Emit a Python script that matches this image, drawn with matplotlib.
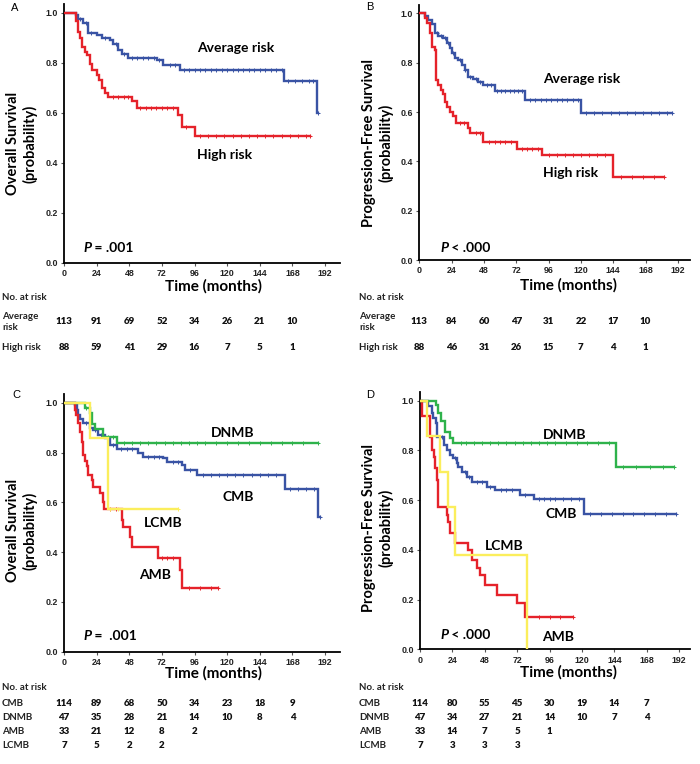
import numpy as np
import matplotlib
matplotlib.use("Agg")
import matplotlib.pyplot as plt
from matplotlib.transforms import blended_transform_factory

# ---------------- data ----------------
x_ticks = [0, 24, 48, 72, 96, 120, 144, 168, 192]
y_ticks = [0.0, 0.2, 0.4, 0.6, 0.8, 1.0]
risk_times = [0, 24, 48, 72, 96, 120, 144, 168]

# Panel A (overall survival)
A_avg_t = [0, 8.8, 10.5, 14.2, 17.9, 24, 27.7, 33.8, 36.3, 40, 42.4, 47.3, 68.2, 73, 85.3, 161.8, 185.9]
A_avg_s = [1.0, 0.99, 0.976, 0.96, 0.92, 0.91, 0.90, 0.89, 0.875, 0.85, 0.837, 0.82, 0.81, 0.79, 0.77, 0.727, 0.60]
A_avg_end = 187
A_avg_c = [12, 16, 20, 30, 38, 44, 50, 54, 58, 62, 66, 70, 78, 82, 88, 92, 96, 100, 104, 108, 112, 116, 120, 124, 128, 132, 136, 140, 144, 148, 152, 156, 160, 165, 170, 175, 180, 183, 187]
A_high_t = [0, 8.8, 10.5, 11.8, 13, 15.4, 17.2, 19.1, 20.4, 24, 25.7, 27.7, 30.2, 32.6, 49.8, 53.5, 84.1, 86.6, 96.4]
A_high_s = [1.0, 0.968, 0.924, 0.90, 0.864, 0.845, 0.83, 0.797, 0.77, 0.75, 0.731, 0.698, 0.68, 0.664, 0.648, 0.618, 0.591, 0.545, 0.507]
A_high_end = 181
A_high_c = [36, 40, 44, 47, 56, 60, 64, 68, 72, 76, 80, 90, 100, 106, 112, 118, 124, 130, 136, 142, 148, 154, 160, 166, 172, 178, 181]

# Panel B (progression-free survival)
B_avg_t = [0, 4.2, 6.7, 9.1, 11.6, 14.1, 17.8, 20.3, 22.7, 24, 26.4, 28.9, 31.4, 33.9, 36.3, 40, 43.7, 47.4, 56.1, 78.3, 120.3]
B_avg_s = [1.0, 0.99, 0.975, 0.955, 0.919, 0.91, 0.899, 0.88, 0.858, 0.84, 0.82, 0.81, 0.79, 0.77, 0.743, 0.735, 0.723, 0.708, 0.685, 0.649, 0.595]
B_avg_end = 188
B_avg_c = [13, 16, 19, 21, 25, 30, 34, 38, 42, 45, 50, 53, 58, 61, 64, 67, 70, 73, 76, 82, 86, 90, 94, 98, 102, 106, 110, 114, 118, 124, 130, 136, 142, 148, 154, 160, 166, 172, 178, 184, 188]
B_high_t = [0, 4.2, 5.9, 7.9, 9.1, 11.6, 12.4, 14.1, 15.8, 17.8, 19, 20.8, 22.7, 25.2, 27.2, 36.3, 37.6, 47.4, 72.2, 91.4, 143.8]
B_high_s = [1.0, 0.98, 0.96, 0.919, 0.865, 0.85, 0.73, 0.71, 0.689, 0.675, 0.642, 0.62, 0.601, 0.585, 0.557, 0.535, 0.514, 0.48, 0.449, 0.426, 0.338]
B_high_end = 182
B_high_c = [30, 33, 42, 45, 52, 56, 60, 64, 68, 76, 80, 84, 88, 96, 102, 108, 114, 120, 126, 132, 138, 150, 158, 166, 174, 182]

# Panel C (overall survival by group)
C_cmb_t = [0, 8.1, 9.3, 10.5, 11.8, 14.2, 19.1, 21.6, 25.3, 30.2, 33.8, 38.7, 54.7, 58.4, 73.1, 75.5, 86.6, 89, 97.6, 162.6, 187.1]
C_cmb_s = [1.0, 0.99, 0.97, 0.95, 0.935, 0.92, 0.90, 0.89, 0.87, 0.86, 0.83, 0.815, 0.797, 0.783, 0.777, 0.763, 0.75, 0.73, 0.708, 0.652, 0.542]
C_cmb_end = 188
C_cmb_c = [16, 23, 27, 36, 42, 46, 50, 62, 66, 70, 80, 84, 93, 102, 108, 114, 120, 126, 132, 138, 144, 150, 156, 166, 172, 178, 184, 188]
C_dnmb_t = [0, 15.5, 19.1, 20.4, 22.8, 28.9, 38.7]
C_dnmb_s = [1.0, 0.979, 0.957, 0.915, 0.894, 0.862, 0.837]
C_dnmb_end = 187
C_dnmb_c = [16, 32, 36, 44, 50, 56, 62, 68, 74, 80, 86, 92, 98, 104, 112, 120, 128, 136, 144, 152, 160, 168, 176, 187]
C_amb_t = [0, 8.1, 8.8, 10.5, 11.8, 13, 14.2, 15.5, 16.7, 17.9, 20.4, 21.6, 26.5, 28.4, 29.7, 42.4, 43.7, 48.6, 49.8, 69.4, 85.3, 86.6]
C_amb_s = [1.0, 0.97, 0.95, 0.92, 0.884, 0.843, 0.79, 0.764, 0.744, 0.71, 0.69, 0.663, 0.636, 0.602, 0.572, 0.529, 0.50, 0.462, 0.42, 0.378, 0.33, 0.254]
C_amb_end = 113.5
C_amb_c = [34, 38, 72, 76, 80, 92, 100, 108, 113.5]
C_lcmb_t = [0, 19.1, 32.6]
C_lcmb_s = [1.0, 0.857, 0.572]
C_lcmb_end = 84.1
C_lcmb_c = [34, 40, 84.1]

# Panel D (progression-free survival by group)
D_cmb_t = [0, 6.2, 8.6, 9.9, 11.6, 12.3, 18, 19.8, 22.2, 24.7, 27.2, 28.4, 30.9, 34.6, 38.3, 49.4, 55.6, 74.3, 84.2, 121.4]
D_cmb_s = [1.0, 0.98, 0.95, 0.93, 0.909, 0.855, 0.822, 0.80, 0.78, 0.77, 0.75, 0.733, 0.714, 0.693, 0.674, 0.654, 0.641, 0.62, 0.604, 0.545]
D_cmb_end = 189.5
D_cmb_c = [16, 26, 33, 36, 42, 46, 52, 60, 64, 68, 78, 88, 92, 96, 100, 106, 112, 118, 126, 134, 142, 150, 158, 166, 174, 182, 189.5]
D_dnmb_t = [0, 11.6, 13.6, 15.6, 18.5, 22.2, 24.7, 145]
D_dnmb_s = [1.0, 0.983, 0.949, 0.92, 0.875, 0.849, 0.828, 0.732]
D_dnmb_end = 188
D_dnmb_c = [30, 34, 40, 46, 52, 58, 64, 70, 76, 82, 88, 94, 100, 108, 116, 124, 132, 140, 150, 160, 170, 180, 188]
D_amb_t = [0, 1.7, 7.4, 8.6, 10.4, 11.1, 12.3, 13.6, 19.8, 21, 22.2, 25.9, 35.8, 38.3, 42, 44.5, 48.2, 56.8, 71.7, 77.8]
D_amb_s = [1.0, 0.94, 0.855, 0.80, 0.775, 0.73, 0.68, 0.574, 0.54, 0.513, 0.468, 0.427, 0.40, 0.36, 0.327, 0.30, 0.26, 0.218, 0.186, 0.131]
D_amb_end = 113
D_amb_c = [88, 96, 104, 113]
D_lcmb_t = [0, 4.9, 14.8, 21, 25.9, 79]
D_lcmb_s = [1.0, 0.857, 0.714, 0.571, 0.381, 0.0]
D_lcmb_end = 79
D_lcmb_c = []

# Number at risk tables
A_risk_labels = ["Average\nrisk", "High risk"]
A_risk = [[113, 91, 69, 52, 34, 26, 21, 10], [88, 59, 41, 29, 16, 7, 5, 1]]
B_risk_labels = ["Average\nrisk", "High risk"]
B_risk = [[113, 84, 60, 47, 31, 22, 17, 10], [88, 46, 31, 26, 15, 7, 4, 1]]
C_risk_labels = ["CMB", "DNMB", "AMB", "LCMB"]
C_risk = [[114, 89, 68, 50, 34, 23, 18, 9], [47, 35, 28, 21, 14, 10, 8, 4], [33, 21, 12, 8, 2], [7, 5, 2, 2]]
D_risk_labels = ["CMB", "DNMB", "AMB", "LCMB"]
D_risk = [[114, 80, 55, 45, 30, 19, 14, 7], [47, 34, 27, 21, 14, 10, 7, 4], [33, 14, 7, 5, 1], [7, 3, 3, 3]]

# ---------------- style ----------------
BLUE = "#3953a4"
RED = "#e5222a"
GREEN = "#2eb24b"
YELLOW = "#fbee5c"
MAIN_FONT = ["Lato", "DejaVu Sans"]
TICK_FONT = ["Liberation Sans", "DejaVu Sans"]

W, H = 700, 764
fig = plt.figure(figsize=(W / 100, H / 100), dpi=100)


def fx(px):
    return px / W


def fy(py):
    return 1 - py / H


def km(ax, t, s, end, cens, color, z=2):
    t = np.asarray(t, float)
    s = np.asarray(s, float)
    xs = np.append(t, end)
    ys = np.append(s, s[-1])
    ax.step(xs, ys, where="post", color=color, lw=1.7, zorder=z, solid_joinstyle="miter")
    if len(cens):
        c = np.asarray(cens, float)
        idx = np.searchsorted(t, c, side="right") - 1
        ax.plot(c, s[idx], linestyle="none", marker="+", ms=3.2, mew=0.7, color=color, zorder=z)


def setup(ax, xmax, ytitle, xlab_x, ylab_x, ylab_y, xlab_y):
    ax.set_xlim(0, xmax)
    ax.set_ylim(0, 1.035)
    for sp in ["top", "right"]:
        ax.spines[sp].set_visible(False)
    for sp in ["left", "bottom"]:
        ax.spines[sp].set_linewidth(1.3)
    ax.set_xticks(x_ticks)
    ax.set_yticks(y_ticks)
    ax.set_yticklabels([f"{v:.1f}" for v in y_ticks])
    ax.tick_params(length=2.5, width=0.8, pad=2, labelsize=6.4, color="#555555", labelcolor="#222222")
    for lab in ax.get_xticklabels() + ax.get_yticklabels():
        lab.set_fontfamily(TICK_FONT)
        lab.set_fontweight("bold")
    ax.text(xlab_x, xlab_y, "Time (months)", transform=ax.transAxes, ha="center", va="center",
            fontsize=11, fontweight="bold", family=MAIN_FONT)
    ax.text(ylab_x, ylab_y, ytitle, transform=ax.transAxes, ha="center", va="center",
            rotation=90, fontsize=10.5, fontweight="bold", family=MAIN_FONT, linespacing=1.2)


def label(ax, x, y, s):
    ax.text(x, y, s, ha="left", va="center", fontsize=10, fontweight="bold", family=MAIN_FONT)


def pval(ax, x, y, rest):
    tp = ax.text(x, y, "P", ha="left", va="center", fontsize=10, fontweight="bold",
                 fontstyle="italic", family=MAIN_FONT)
    ax.annotate(rest, xy=(1, 0), xycoords=tp, ha="left", va="bottom", fontsize=10,
                fontweight="bold", family=MAIN_FONT)


def risk_table(ax, left_px, head_py, rows_py, labels, data):
    tr = blended_transform_factory(ax.transData, fig.transFigure)
    fig.text(fx(left_px), fy(head_py), "No. at risk", ha="left", va="center", fontsize=7,
             family=MAIN_FONT, fontweight="bold", color="#222222")
    for py, lab, row in zip(rows_py, labels, data):
        fig.text(fx(left_px), fy(py), lab, ha="left", va="center", fontsize=7,
                 family=MAIN_FONT, fontweight="bold", linespacing=1.25, color="#222222")
        for tt, n in zip(risk_times, row):
            ax.text(tt, fy(py), str(n), transform=tr, ha="center", va="center", fontsize=7,
                    family=MAIN_FONT, fontweight="heavy", color="#111111")


# ---------------- Panel A ----------------
axA = fig.add_axes([fx(64), fy(263), fx(276), 259 / H])
setup(axA, 203, "Overall Survival\n(probability)", 0.54, -0.152, 0.46, -0.089)
km(axA, A_avg_t, A_avg_s, A_avg_end, A_avg_c, BLUE, 2)
km(axA, A_high_t, A_high_s, A_high_end, A_high_c, RED, 3)
label(axA, 97.6, 0.86, "Average risk")
label(axA, 97.6, 0.43, "High risk")
pval(axA, 14.2, 0.06, " = .001")
fig.text(fx(15), fy(8), "A", ha="center", va="center", fontsize=8, family=TICK_FONT)
risk_table(axA, 2, 297, [322, 347], A_risk_labels, A_risk)

# ---------------- Panel B ----------------
axB = fig.add_axes([fx(419.3), fy(260), fx(270.7), 255.3 / H])
setup(axB, 201, "Progression-Free Survival\n(probability)", 0.55, -0.154, 0.458, -0.098)
km(axB, B_avg_t, B_avg_s, B_avg_end, B_avg_c, BLUE, 2)
km(axB, B_high_t, B_high_s, B_high_end, B_high_c, RED, 3)
label(axB, 91.6, 0.732, "Average risk")
label(axB, 91.6, 0.354, "High risk")
pval(axB, 15.4, 0.047, " < .000")
fig.text(fx(370), fy(7), "B", ha="center", va="center", fontsize=8, family=TICK_FONT)
risk_table(axB, 359, 297, [322, 347], B_risk_labels, B_risk)

# ---------------- Panel C ----------------
axC = fig.add_axes([fx(64), fy(651.7), fx(276), 257.7 / H])
setup(axC, 203, "Overall Survival\n(probability)", 0.54, -0.152, 0.47, -0.083)
km(axC, C_cmb_t, C_cmb_s, C_cmb_end, C_cmb_c, BLUE, 2)
km(axC, C_amb_t, C_amb_s, C_amb_end, C_amb_c, RED, 3)
km(axC, C_dnmb_t, C_dnmb_s, C_dnmb_end, C_dnmb_c, GREEN, 4)
km(axC, C_lcmb_t, C_lcmb_s, C_lcmb_end, C_lcmb_c, YELLOW, 5)
label(axC, 108, 0.877, "DNMB")
label(axC, 116.7, 0.623, "CMB")
label(axC, 59, 0.516, "LCMB")
label(axC, 55.4, 0.308, "AMB")
pval(axC, 14.2, 0.063, " =  .001")
fig.text(fx(16), fy(395), "C", ha="center", va="center", fontsize=8, family=TICK_FONT)
risk_table(axC, 2, 687, [703, 717, 732, 746], C_risk_labels, C_risk)

# ---------------- Panel D ----------------
axD = fig.add_axes([fx(420), fy(649.3), fx(270), 257.3 / H])
setup(axD, 200, "Progression-Free Survival\n(probability)", 0.55, -0.156, 0.47, -0.09)
km(axD, D_cmb_t, D_cmb_s, D_cmb_end, D_cmb_c, BLUE, 2)
km(axD, D_amb_t, D_amb_s, D_amb_end, D_amb_c, RED, 3)
km(axD, D_dnmb_t, D_dnmb_s, D_dnmb_end, D_dnmb_c, GREEN, 4)
km(axD, D_lcmb_t, D_lcmb_s, D_lcmb_end, D_lcmb_c, YELLOW, 5)
label(axD, 90.9, 0.862, "DNMB")
label(axD, 92.6, 0.544, "CMB")
label(axD, 48.2, 0.417, "LCMB")
label(axD, 90.6, 0.051, "AMB")
pval(axD, 14.8, 0.058, " < .000")
fig.text(fx(370), fy(395), "D", ha="center", va="center", fontsize=8, family=TICK_FONT)
risk_table(axD, 359, 687, [703, 717, 732, 746], D_risk_labels, D_risk)

fig.savefig("out.png", dpi=100)
